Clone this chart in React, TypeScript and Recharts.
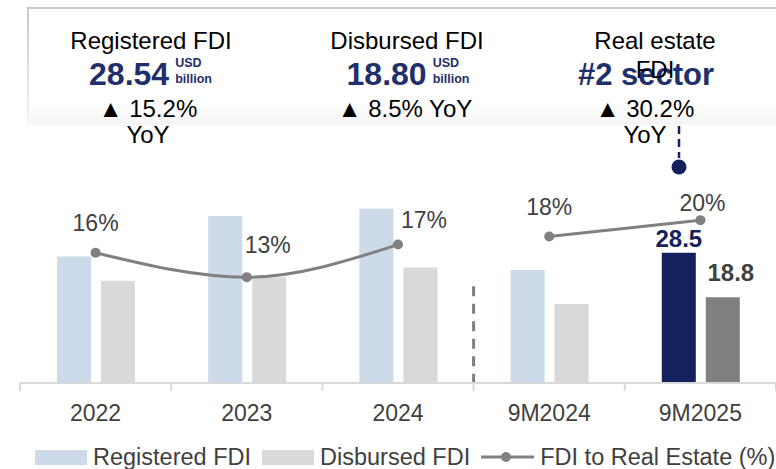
import React from "react";
import { ComposedChart, Bar, Line, XAxis, YAxis, Legend, Cell, LabelList, ReferenceLine } from "recharts";

// values (USD billion, % share of real estate)
const CATEGORIES = ["2022", "2023", "2024", "9M2024", "9M2025"];
const REGISTERED = [27.72, 36.61, 38.23, 24.78, 28.54];
const DISBURSED = [22.4, 23.18, 25.35, 17.34, 18.8];
const RE_SHARE_YEARLY = [16, 13, 17, null, null];
const RE_SHARE_9M = [null, null, null, 18, 20];
const LEGEND_ORDER = ["Registered FDI", "Disbursed FDI", "FDI to Real Estate (%)"];

const HIGHLIGHT = 4; // 9M2025 gets the dark colours + value labels

const W = 776;
const H = 469;
const PLOT_LEFT = 20;
const BAND = (W - PLOT_LEFT) / CATEGORIES.length;

const FONT = '"Liberation Sans", Arial, Helvetica, sans-serif';
const NAVY = "#14215C";
const NAVY_TXT = "#1E2F6B";
const REG_COLOR = "#CCDAEA";
const DIS_COLOR = "#D9D9D9";
const LINE_COLOR = "#808080";
const TEXT = "#404040";

// label nudges for the % labels so they clear the curve (dx, dy from the point)
const PCT_LABEL_OFFSET: [number, number][] = [[0, -22], [21, -24], [26, -17], [0, -21], [2, -9]];

if (typeof document !== "undefined") document.body.style.margin = "0";

const data = CATEGORIES.map((cat, i) => ({
  cat,
  registered: REGISTERED[i],
  disbursed: DISBURSED[i],
  shareYearly: RE_SHARE_YEARLY[i],
  share9m: RE_SHARE_9M[i],
}));

function AxisTick(props: any) {
  const { x, y, payload, index } = props;
  const tickTop = y - 8;
  return (
    <g>
      {index === 0 && <line x1={x - BAND / 2} x2={x - BAND / 2} y1={tickTop} y2={y} stroke="#D9D9D9" strokeWidth={2} />}
      <line x1={x + BAND / 2} x2={x + BAND / 2} y1={tickTop} y2={y} stroke="#D9D9D9" strokeWidth={2} />
      <text x={x} y={y + 30} textAnchor="middle" fontSize={23} fill={TEXT} fontFamily={FONT}>
        {payload.value}
      </text>
    </g>
  );
}

function RegLabel(props: any) {
  const { x, y, width, value, index } = props;
  if (index !== HIGHLIGHT) return null;
  return (
    <text x={x + width / 2} y={y - 6} textAnchor="middle" fontSize={24} fontWeight="bold" fill={NAVY} fontFamily={FONT}>
      {Number(value).toFixed(1)}
    </text>
  );
}

function DisLabel(props: any) {
  const { x, y, width, value, index } = props;
  if (index !== HIGHLIGHT) return null;
  return (
    <text x={x + width / 2 + 8} y={y - 16} textAnchor="middle" fontSize={24} fontWeight="bold" fill="#404040" fontFamily={FONT}>
      {Number(value).toFixed(1)}
    </text>
  );
}

function PctLabel(props: any) {
  const { x, y, value, index } = props;
  if (value == null) return null;
  const [dx, dy] = PCT_LABEL_OFFSET[index] ?? [0, -20];
  return (
    <text x={x + dx} y={y + dy} textAnchor="middle" fontSize={23} fill={TEXT} fontFamily={FONT}>
      {value}%
    </text>
  );
}

function LegendContent(props: any) {
  const items = (props.payload ?? [])
    .filter((p: any) => p.type !== "none")
    .sort((a: any, b: any) => LEGEND_ORDER.indexOf(a.value) - LEGEND_ORDER.indexOf(b.value));
  return (
    <div style={{ height: 24, display: "flex", alignItems: "center", paddingLeft: 35, fontFamily: FONT, fontSize: 23.5, color: TEXT, whiteSpace: "nowrap", lineHeight: "24px" }}>
      {items.map((p: any) => (
        <div key={p.value} style={{ display: "flex", alignItems: "center", marginRight: 11, flexShrink: 0 }}>
          {p.type === "line" ? (
            <svg width={53} height={16} style={{ marginRight: 6 }}>
              <line x1={0} x2={53} y1={8} y2={8} stroke={LINE_COLOR} strokeWidth={3} />
              <circle cx={25} cy={8} r={5} fill={LINE_COLOR} />
            </svg>
          ) : (
            <div style={{ width: 52, height: 15, background: p.color, marginRight: 6 }} />
          )}
          <span>{p.value}</span>
        </div>
      ))}
    </div>
  );
}

function Line1(props: { cx: number; top: number; size: number; children: React.ReactNode; bold?: boolean; color?: string }) {
  return (
    <div
      style={{
        position: "absolute",
        left: props.cx - 150,
        width: 300,
        top: props.top,
        textAlign: "center",
        fontSize: props.size,
        lineHeight: 1,
        fontWeight: props.bold ? "bold" : "normal",
        color: props.color ?? "#000",
        whiteSpace: "nowrap",
      }}
    >
      {props.children}
    </div>
  );
}

function ValueRow(props: { cx: number; value: string }) {
  return (
    <div style={{ position: "absolute", left: props.cx - 150, width: 300, top: 58, display: "flex", justifyContent: "center", alignItems: "flex-start" }}>
      <span style={{ fontSize: 32, lineHeight: 1, fontWeight: "bold", color: NAVY_TXT }}>{props.value}</span>
      <div style={{ marginLeft: 6, marginTop: -3, fontSize: 12.5, lineHeight: "16px", fontWeight: "bold", color: NAVY_TXT }}>
        <div>USD</div>
        <div>billion</div>
      </div>
    </div>
  );
}

function Header() {
  return (
    <div style={{ position: "absolute", left: 0, top: 0, width: W, height: 180, fontFamily: FONT, pointerEvents: "none" }}>
      <div style={{ position: "absolute", left: 27, top: 7, width: W - 27, height: 116, borderTop: "2px solid #C9C9C9", background: "linear-gradient(to bottom, #ffffff 80%, #f5f5f5 100%)" }} />
      <div style={{ position: "absolute", left: 27, top: 7, width: 2, height: 116, background: "linear-gradient(to bottom, #C9C9C9, #f4f4f4)" }} />

      <Line1 cx={151} top={28.7} size={24}>Registered FDI</Line1>
      <ValueRow cx={150.5} value="28.54" />
      <Line1 cx={148} top={96.7} size={24}>▲ 15.2%</Line1>
      <Line1 cx={148} top={122.7} size={24}>YoY</Line1>

      <Line1 cx={407} top={28.7} size={24}>Disbursed FDI</Line1>
      <ValueRow cx={408} value="18.80" />
      <Line1 cx={405} top={96.7} size={24}>▲ 8.5% YoY</Line1>

      <Line1 cx={655} top={28.7} size={24}>Real estate</Line1>
      <Line1 cx={646} top={58.8} size={31} bold color={NAVY_TXT}>#2 sector</Line1>
      <Line1 cx={655} top={57.7} size={24}>FDI</Line1>
      <Line1 cx={645} top={96.7} size={24}>▲ 30.2%</Line1>
      <Line1 cx={645} top={122.7} size={24}>YoY</Line1>

      <svg width={W} height={180} style={{ position: "absolute", left: 0, top: 0 }}>
        <line x1={679} x2={679} y1={126} y2={158} stroke={NAVY} strokeWidth={2.5} strokeDasharray="8 5" />
        <circle cx={679} cy={167} r={7.5} fill={NAVY} />
      </svg>
    </div>
  );
}

export default function App() {
  return (
    <div style={{ position: "relative", width: W, height: H, background: "#fff", fontFamily: FONT, overflow: "hidden" }}>
      <ComposedChart width={W} height={H} data={data} margin={{ top: 155, right: 0, left: PLOT_LEFT, bottom: 0 }} barGap={10} barSize={34}>
        <XAxis
          dataKey="cat"
          height={62}
          interval={0}
          tickLine={false}
          tickSize={8}
          tickMargin={0}
          axisLine={{ stroke: "#D9D9D9", strokeWidth: 2 }}
          tick={<AxisTick />}
        />
        <YAxis yAxisId="usd" hide domain={[0, 50]} />
        <YAxis yAxisId="pct" hide orientation="right" domain={[0, 28]} />
        <Legend verticalAlign="bottom" align="left" content={<LegendContent />} wrapperStyle={{ left: 0, bottom: 0, width: W, height: 24 }} />
        <ReferenceLine
          yAxisId="usd"
          segment={[{ x: "9M2024", y: 21.2 }, { x: "9M2024", y: 0 }]}
          position="start"
          stroke="#7F7F7F"
          strokeWidth={3}
          strokeDasharray="10 7.5"
          ifOverflow="visible"
        />
        <Bar yAxisId="usd" dataKey="registered" name="Registered FDI" fill={REG_COLOR} legendType="rect" isAnimationActive={false}>
          {data.map((_, i) => (
            <Cell key={i} fill={i === HIGHLIGHT ? NAVY : REG_COLOR} />
          ))}
          <LabelList dataKey="registered" content={<RegLabel />} />
        </Bar>
        <Bar yAxisId="usd" dataKey="disbursed" name="Disbursed FDI" fill={DIS_COLOR} legendType="rect" isAnimationActive={false}>
          {data.map((_, i) => (
            <Cell key={i} fill={i === HIGHLIGHT ? "#808080" : DIS_COLOR} />
          ))}
          <LabelList dataKey="disbursed" content={<DisLabel />} />
        </Bar>
        <Line
          yAxisId="pct"
          dataKey="shareYearly"
          name="FDI to Real Estate (%)"
          type="monotone"
          stroke={LINE_COLOR}
          strokeWidth={3}
          dot={{ r: 5, fill: LINE_COLOR, stroke: LINE_COLOR, strokeWidth: 0 }}
          legendType="line"
          isAnimationActive={false}
        >
          <LabelList dataKey="shareYearly" content={<PctLabel />} />
        </Line>
        <Line
          yAxisId="pct"
          dataKey="share9m"
          name="FDI to Real Estate 9M"
          type="linear"
          stroke={LINE_COLOR}
          strokeWidth={3}
          dot={{ r: 5, fill: LINE_COLOR, stroke: LINE_COLOR, strokeWidth: 0 }}
          legendType="none"
          isAnimationActive={false}
        >
          <LabelList dataKey="share9m" content={<PctLabel />} />
        </Line>
      </ComposedChart>
      <Header />
    </div>
  );
}
